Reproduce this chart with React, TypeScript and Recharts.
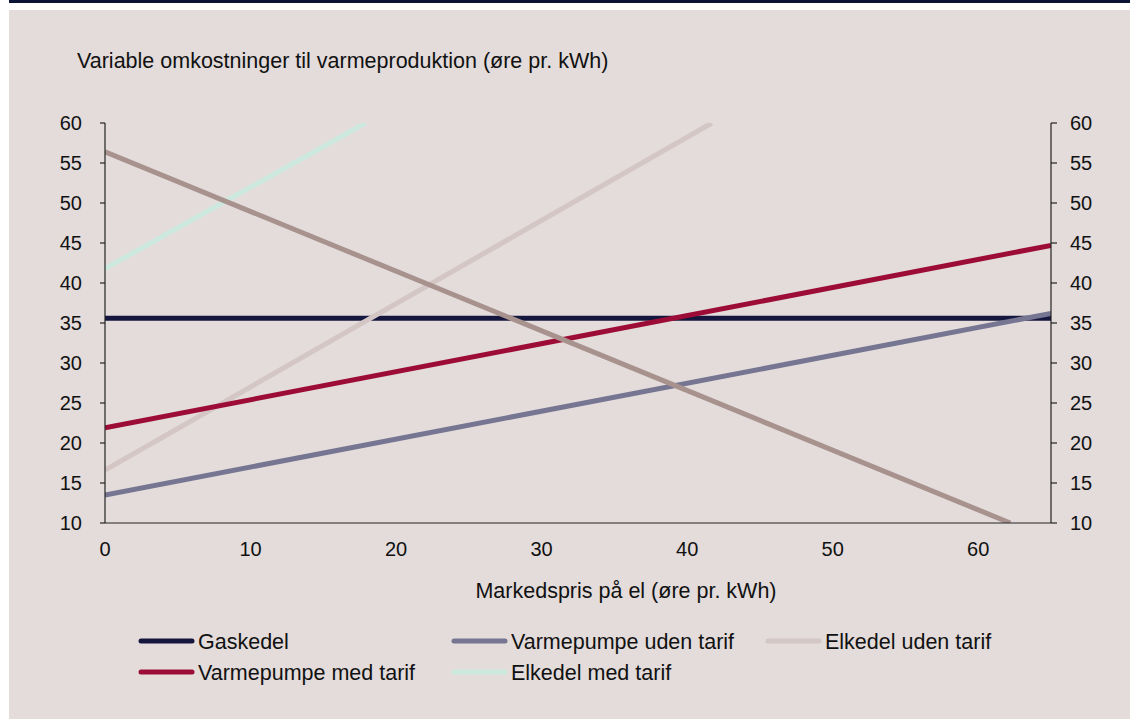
import React from "react";
import { LineChart, Line, XAxis, YAxis } from "recharts";

// Electricity market price (øre pr. kWh) vs. variable heat production cost
const gaskedel = [
  { x: 0, y: 35.6 },
  { x: 65, y: 35.6 },
];
const varmepumpeUdenTarif = [
  { x: 0, y: 13.5 },
  { x: 65, y: 36.2 },
];
const elkedelUdenTarif = [
  { x: 0, y: 16.6 },
  { x: 41.7, y: 60 },
];
const varmepumpeMedTarif = [
  { x: 0, y: 21.9 },
  { x: 65, y: 44.7 },
];
const elkedelMedTarif = [
  { x: 0, y: 41.8 },
  { x: 17.9, y: 60 },
];
const faldendeLinje = [
  { x: 0, y: 56.4 },
  { x: 62.2, y: 10 },
];

const xTicks = [0, 10, 20, 30, 40, 50, 60];
const yTicks = [10, 15, 20, 25, 30, 35, 40, 45, 50, 55, 60];

const title = "Variable omkostninger til varmeproduktion (øre pr. kWh)";
const xLabel = "Markedspris på el (øre pr. kWh)";

const COLORS = {
  gas: "#14163d",
  vpUden: "#767592",
  elUden: "#d3c6c5",
  vpMed: "#9c0c36",
  elMed: "#cde9df",
  brown: "#a8928e",
};

const legendItems = [
  { name: "Gaskedel", color: COLORS.gas, col: 0, row: 0 },
  { name: "Varmepumpe uden tarif", color: COLORS.vpUden, col: 1, row: 0 },
  { name: "Elkedel uden tarif", color: COLORS.elUden, col: 2, row: 0 },
  { name: "Varmepumpe med tarif", color: COLORS.vpMed, col: 0, row: 1 },
  { name: "Elkedel med tarif", color: COLORS.elMed, col: 1, row: 1 },
];
const legendCols = [139, 452, 766];
const legendRows = [641, 672];

const FONT = "'Liberation Sans', Arial, sans-serif";
const LW = 5;

export default function App() {
  const W = 1130;
  const H = 719;
  const tickStyle = { fontSize: 20, fill: "#111", fontFamily: FONT };
  return (
    <div style={{ position: "absolute", left: 0, top: 0, width: W, height: H, background: "#fff", overflow: "hidden" }}>
      <div style={{ position: "absolute", left: 9, top: 0, width: W - 9, height: 3, background: "#0b1434" }} />
      <div style={{ position: "absolute", left: 9, top: 10, width: W - 9, height: H - 10, background: "#e3dcdb" }} />
      <div style={{ position: "absolute", left: 0, top: 0 }}>
        <LineChart width={W} height={H} margin={{ top: 123, right: 19, bottom: 166, left: 45 }}>
          <XAxis
            dataKey="x"
            type="number"
            domain={[0, 65]}
            ticks={xTicks}
            allowDataOverflow
            height={30}
            tickLine={false}
            tickSize={0}
            tickMargin={19}
            axisLine={{ stroke: "#222", strokeWidth: 1.2 }}
            tick={tickStyle}
          />
          <YAxis
            yAxisId="left"
            type="number"
            domain={[10, 60]}
            ticks={yTicks}
            allowDataOverflow
            width={60}
            tickSize={5}
            tickMargin={18}
            axisLine={{ stroke: "#222", strokeWidth: 1.2 }}
            tickLine={{ stroke: "#222", strokeWidth: 1.2 }}
            tick={tickStyle}
          />
          <YAxis
            yAxisId="right"
            orientation="right"
            type="number"
            domain={[10, 60]}
            ticks={yTicks}
            allowDataOverflow
            width={60}
            tickSize={6}
            tickMargin={13}
            axisLine={{ stroke: "#222", strokeWidth: 1.2 }}
            tickLine={{ stroke: "#222", strokeWidth: 1.2 }}
            tick={tickStyle}
          />
          <Line yAxisId="left" data={gaskedel} dataKey="y" name="Gaskedel" stroke={COLORS.gas} strokeWidth={LW} dot={false} isAnimationActive={false} />
          <Line yAxisId="left" data={varmepumpeUdenTarif} dataKey="y" name="Varmepumpe uden tarif" stroke={COLORS.vpUden} strokeWidth={LW} dot={false} isAnimationActive={false} />
          <Line yAxisId="left" data={elkedelUdenTarif} dataKey="y" name="Elkedel uden tarif" stroke={COLORS.elUden} strokeWidth={LW} dot={false} isAnimationActive={false} />
          <Line yAxisId="left" data={varmepumpeMedTarif} dataKey="y" name="Varmepumpe med tarif" stroke={COLORS.vpMed} strokeWidth={LW} dot={false} isAnimationActive={false} />
          <Line yAxisId="left" data={elkedelMedTarif} dataKey="y" name="Elkedel med tarif" stroke={COLORS.elMed} strokeWidth={LW} dot={false} isAnimationActive={false} />
          <Line yAxisId="left" data={faldendeLinje} dataKey="y" legendType="none" stroke={COLORS.brown} strokeWidth={LW} dot={false} isAnimationActive={false} />
        </LineChart>
      </div>
      <svg width={W} height={H} style={{ position: "absolute", left: 0, top: 0, pointerEvents: "none" }}>
        <text x={77} y={68} fontSize={21.5} fontFamily={FONT} fill="#111">
          {title}
        </text>
        <text x={626} y={598} fontSize={21.5} fontFamily={FONT} fill="#111" textAnchor="middle">
          {xLabel}
        </text>
        {legendItems.map((it) => {
          const x = legendCols[it.col];
          const y = legendRows[it.row];
          return (
            <g key={it.name}>
              <line x1={x + 2} x2={x + 53} y1={y} y2={y} stroke={it.color} strokeWidth={5} strokeLinecap="round" />
              <text x={x + 59} y={y + 7.5} fontSize={21.5} fontFamily={FONT} fill="#111">
                {it.name}
              </text>
            </g>
          );
        })}
      </svg>
    </div>
  );
}
